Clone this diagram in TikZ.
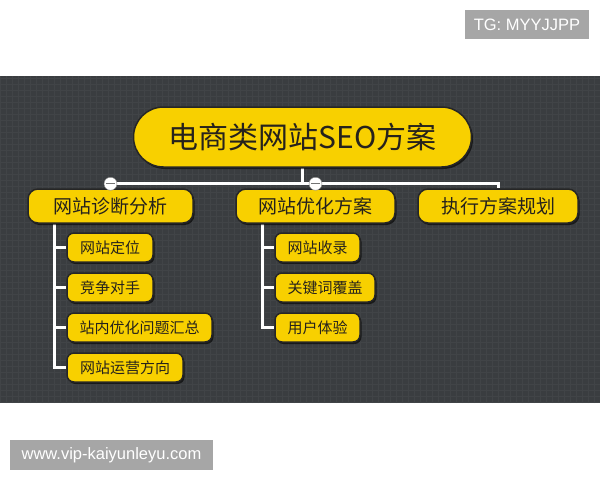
\documentclass[tikz,border=0pt]{standalone}
\usepackage{fontspec}
\setmainfont{Liberation Sans}
\newfontfamily\cjk{Noto Sans CJK SC}
\usepackage{tikz}
\usetikzlibrary{shapes,positioning,shadows}
\usetikzlibrary{backgrounds}

\definecolor{mpanel}{RGB}{58,61,64}
\definecolor{mgrid}{RGB}{65,68,71}
\definecolor{myellow}{RGB}{248,208,0}
\definecolor{mink}{RGB}{38,34,28}
\definecolor{mtaggray}{RGB}{166,166,166}

\begin{document}
\begin{tikzpicture}[x=1pt, y=-1pt,
        mbase/.style = {draw = black!85, line width = 1.5pt, fill = myellow, text = mink, inner sep = 0pt,
            drop shadow = {shadow xshift = 1.5pt, shadow yshift = -2pt, opacity = 0.6, fill = black}},
        mtitle/.style = {mbase, rounded corners = 30pt, minimum width = 338pt, minimum height = 60pt, font = \cjk\fontsize{30}{32}\selectfont},
        mbox/.style = {mbase, rounded corners = 10pt, minimum height = 34pt, font = \cjk\fontsize{19}{21}\selectfont},
        msub/.style = {mbase, rounded corners = 7pt, minimum height = 29pt, font = \cjk\fontsize{15}{17}\selectfont},
        mline/.style = {white, line width = 3pt},
        mknob/.style = {circle, fill = white, draw = black!50, line width = 0.4pt, minimum size = 13pt, inner sep = 0pt},
        mtag/.style = {fill = mtaggray, text = white, inner sep = 0pt, font = \fontsize{16.5}{18}\selectfont}
        ]
        \useasboundingbox (0,0) rectangle (600,480);

        % dark panel
        \begin{scope}[on background layer]
            \fill[mpanel] (0,76) rectangle (600,403);
            \draw[mgrid, line width = 0.3pt, step = 6pt] (0,76) grid (600,403);
        \end{scope}

        \node[mtitle] (T) at (302.5,137) {电商类网站SEO方案};

        \node[mbox, minimum width = 165pt] (A) at (110.5,206) {网站诊断分析};
        \node[mbox, minimum width = 159pt] (B) at (315.5,206) {网站优化方案};
        \node[mbox, minimum width = 160pt] (C) at (498,206) {执行方案规划};

        \node[msub, minimum width = 86pt] (A1) at (110,247.5) {网站定位};
        \node[msub, minimum width = 86pt] (A2) at (110,287.5) {竞争对手};
        \node[msub, minimum width = 145pt] (A3) at (139.5,327.5) {站内优化问题汇总};
        \node[msub, minimum width = 116pt] (A4) at (125,367.5) {网站运营方向};

        \node[msub, minimum width = 85pt] (B1) at (317.5,247.5) {网站收录};
        \node[msub, minimum width = 100pt] (B2) at (325,287.5) {关键词覆盖};
        \node[msub, minimum width = 85pt] (B3) at (317.5,327.5) {用户体验};

        % connectors
        \begin{scope}[on background layer]
            \draw[mline] (T.south) -- ++(0,16) coordinate (J);
            \draw[mline] (A.north) |- (J) -| (C.north);
            \draw[mline] (B.north) -- (B.north |- J);
            \coordinate (Ad) at ([xshift=27pt]A.south west);
            \coordinate (Bd) at ([xshift=27pt]B.south west);
            \foreach \n in {A1,A2,A3,A4}
                \draw[mline] (Ad) |- (\n.west);
            \foreach \n in {B1,B2,B3}
                \draw[mline] (Bd) |- (\n.west);
        \end{scope}

        \foreach \n in {A,B}{
            \node[mknob] (K\n) at (\n.north |- J) {};
            \draw[black!55, line width = 1.2pt] ([xshift=-4.5pt]K\n.center) -- ([xshift=4.5pt]K\n.center);
        }

        \node[mtag, minimum width = 124pt, minimum height = 29pt] (tg) at (527,24.5) {TG: MYYJJPP};
        \node[mtag, minimum width = 203pt, minimum height = 30pt] (www) at (111.5,455) {www.vip-kaiyunleyu.com};

    \end{tikzpicture}
\end{document}
